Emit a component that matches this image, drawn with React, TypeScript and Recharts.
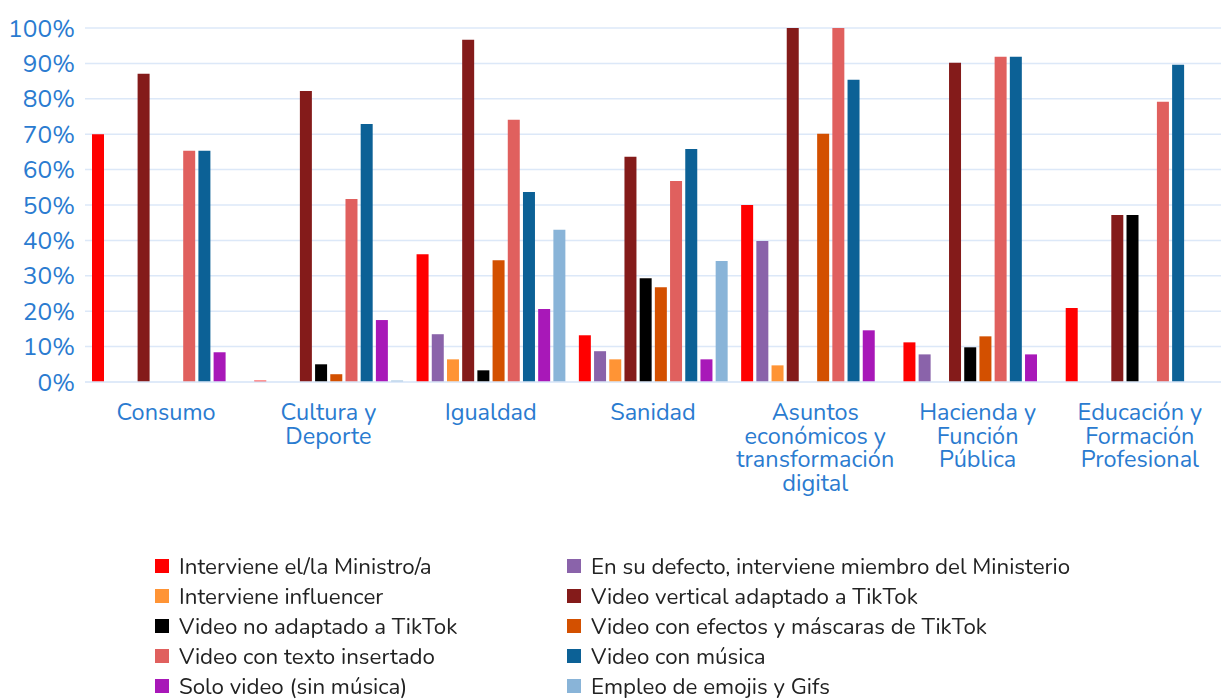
import React from "react";
import { BarChart, Bar, XAxis, YAxis, CartesianGrid } from "recharts";

const categories = [
  "Consumo",
  "Cultura y\nDeporte",
  "Igualdad",
  "Sanidad",
  "Asuntos\neconómicos y\ntransformación\ndigital",
  "Hacienda y\nFunción\nPública",
  "Educación y\nFormación\nProfesional",
];

const seriesNames = [
  "Interviene el/la Ministro/a",
  "En su defecto, interviene miembro del Ministerio",
  "Interviene influencer",
  "Video vertical adaptado a TikTok",
  "Video no adaptado a TikTok",
  "Video con efectos y máscaras de TikTok",
  "Video con texto insertado",
  "Video con música",
  "Solo video (sin música)",
  "Empleo de emojis y Gifs",
];

const seriesColors = [
  "#ff0000",
  "#8a63aa",
  "#ff9435",
  "#841b1a",
  "#000000",
  "#d35000",
  "#e0605e",
  "#0c6196",
  "#a818b8",
  "#89b4d8",
];

// one array per series, in category order
const ministro = [70, 0.4, 36.1, 13.2, 50, 11.2, 20.9];
const miembro = [0, 0, 13.5, 8.7, 39.8, 7.8, 0];
const influencer = [0, 0, 6.4, 6.4, 4.7, 0, 0];
const vertical = [87.1, 82.2, 96.7, 63.6, 100, 90.2, 47.2];
const noAdaptado = [0, 5, 3.3, 29.3, 0, 9.8, 47.2];
const efectos = [0, 2.2, 34.4, 26.8, 70.1, 12.9, 0];
const texto = [65.3, 51.7, 74.1, 56.8, 100, 91.9, 79.2];
const musica = [65.3, 72.9, 53.7, 65.8, 85.4, 91.9, 89.6];
const soloVideo = [8.4, 17.5, 20.6, 6.4, 14.6, 7.8, 0];
const emojis = [0, 0.4, 43, 34.2, 0, 0, 0];

const yTicks = [0, 10, 20, 30, 40, 50, 60, 70, 80, 90, 100];

const seriesValues = [
  ministro,
  miembro,
  influencer,
  vertical,
  noAdaptado,
  efectos,
  texto,
  musica,
  soloVideo,
  emojis,
];

const data = categories.map((name, i) => {
  const row: Record<string, string | number> = { name };
  seriesValues.forEach((vals, s) => {
    row[`s${s}`] = vals[i];
  });
  return row;
});

const FONT = "Nunito, Lato, 'Open Sans', sans-serif";

const CategoryTick = (props: any) => {
  const { x, y, payload } = props;
  const lines = String(payload.value).split("\n");
  return (
    <text
      x={x}
      y={y}
      textAnchor="middle"
      fill="#2a7bd0"
      fontSize={23.5}
      fontFamily={FONT}
    >
      {lines.map((line, i) => (
        <tspan key={i} x={x} dy={i === 0 ? 30 : 23.7}>
          {line}
        </tspan>
      ))}
    </text>
  );
};

export default function App() {
  return (
    <div
      style={{
        position: "fixed",
        left: 0,
        top: 0,
        width: 1222,
        height: 700,
        background: "#fff",
      }}
    >
      <BarChart
        width={1222}
        height={700}
        data={data}
        margin={{ top: 28, right: 1, bottom: 218, left: 0 }}
        barSize={12}
        barGap={3.2}
      >
        <CartesianGrid vertical={false} stroke="#dce8f8" strokeWidth={1.5} />
        <XAxis
          dataKey="name"
          height={100}
          tick={<CategoryTick />}
          tickLine={false}
          axisLine={{ stroke: "#dce8f8", strokeWidth: 1.5 }}
          interval={0}
        />
        <YAxis
          width={85}
          domain={[0, 100]}
          ticks={yTicks}
          interval={0}
          tickFormatter={(v) => `${v}%`}
          axisLine={false}
          tickLine={false}
          tickMargin={4}
          tick={{ fill: "#2a7bd0", fontSize: 24.5, fontFamily: FONT }}
        />
        {seriesNames.map((name, i) => (
          <Bar
            key={name}
            dataKey={`s${i}`}
            name={name}
            fill={seriesColors[i]}
            isAnimationActive={false}
          />
        ))}
      </BarChart>
      <div
        style={{
          position: "absolute",
          top: 551,
          left: 155,
          display: "grid",
          gridTemplateColumns: "412px 560px",
          fontFamily: FONT,
          fontSize: 22.3,
          color: "#222",
        }}
      >
        {seriesNames.map((name, i) => (
          <div
            key={name}
            style={{ display: "flex", alignItems: "center", height: 30 }}
          >
            <span
              style={{
                display: "inline-block",
                width: 14,
                height: 14,
                marginRight: 10,
                backgroundColor: seriesColors[i],
              }}
            />
            <span>{name}</span>
          </div>
        ))}
      </div>
    </div>
  );
}
